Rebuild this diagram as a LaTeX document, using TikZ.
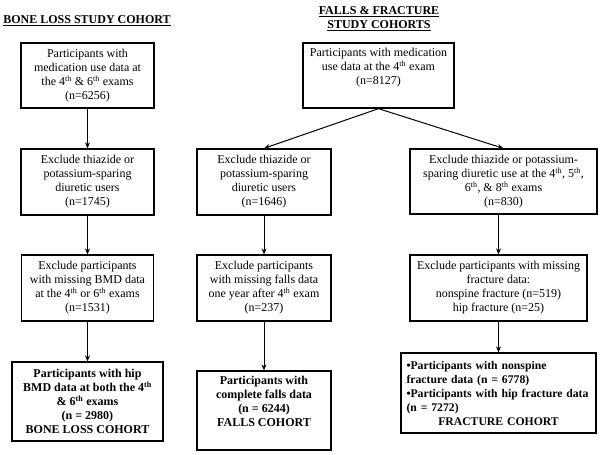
\documentclass[tikz,border=0pt]{standalone}
\usepackage{fontspec}
\setmainfont{Liberation Serif}
\usetikzlibrary{arrows.meta}
\newcommand{\sth}{\textsuperscript{th}}
\begin{document}
\begin{tikzpicture}[x=1pt,y=-1pt,
  box/.style={draw,line width=1.3pt,align=center,inner sep=0pt,font=\fontsize{12}{14}\selectfont},
  fbox/.style={box,font=\fontsize{12}{14}\selectfont\bfseries},
  title/.style={align=center,inner sep=0pt,font=\fontsize{12}{14}\selectfont\bfseries},
  arr/.style={line width=1pt,-{Stealth[length=6pt,width=5pt]}}]
\useasboundingbox (0,0) rectangle (600,455);
% titles
\node[title] (t1) at (87,21) {\underline{BONE LOSS STUDY COHORT}};
\node[title] (t2) at (379,19) {\underline{FALLS \& FRACTURE}\\\underline{STUDY COHORTS}};
% left column
\node[box,minimum width=133pt,minimum height=65pt] (L1) at (87.5,75.5)
  {Participants with\\medication use data at\\the 4\sth{} \& 6\sth{} exams\\(n=6256)};
\node[box,minimum width=133pt,minimum height=66pt] (L2) at (87.5,182)
  {Exclude thiazide or\\potassium-sparing\\diuretic users\\(n=1745)};
\node[box,minimum width=132pt,minimum height=66pt] (L3) at (87.5,288)
  {Exclude participants\\with missing BMD data\\at the 4\sth{} or 6\sth{} exams\\(n=1531)};
\node[fbox,minimum width=151pt,minimum height=79pt] (L4) at (87.5,401.5)
  {Participants with hip\\BMD data at both the 4\sth\\\& 6\sth{} exams\\(n = 2980)\\BONE LOSS COHORT};
% middle column
\node[box,minimum width=151pt,minimum height=65pt] (M1) at (378.5,75.5)
  {Participants with medication\\use data at the 4\sth{} exam\\(n=8127)\\\strut};
\node[box,minimum width=134pt,minimum height=66pt] (M2) at (264,182)
  {Exclude thiazide or\\potassium-sparing\\diuretic users\\(n=1646)};
\node[box,minimum width=134pt,minimum height=66pt] (M3) at (264,288)
  {Exclude participants\\with missing falls data\\one year after 4\sth{} exam\\(n=237)};
\node[fbox,minimum width=134pt,minimum height=79pt] (M4) at (264,410.5)
  {Participants with\\complete falls data\\(n = 6244)\\FALLS COHORT\\\strut};
% right column
\node[box,minimum width=187pt,minimum height=65pt] (R2) at (503.5,181.5)
  {Exclude thiazide or potassium-\\sparing diuretic use at the 4\sth, 5\sth,\\6\sth, \& 8\sth{} exams\\(n=830)};
\node[box,minimum width=177pt,minimum height=66pt] (R3) at (498.5,288)
  {Exclude participants with missing\\fracture data:\\nonspine fracture (n=519)\\hip fracture (n=25)};
\node[fbox,font=\fontsize{11.7}{14}\selectfont\bfseries,minimum width=195pt,minimum height=80pt,align=left,text width=184pt] (R4) at (498.5,393)
  {•Participants with nonspine\\fracture data (n = 6778)\\•Participants with hip fracture data\\(n = 7272)\\\makebox[184pt]{FRACTURE COHORT}};
% connectors
\draw[arr] (L1.south) -- (L2.north);
\draw[arr] (L2.south) -- (L3.north);
\draw[arr] (L3.south) -- (L4.north);
\draw[arr] (M1.south) -- (M2.north);
\draw[arr] (M1.south) -- (R2.north);
\draw[arr] (M2.south) -- (M3.north);
\draw[arr] (M3.south) -- (M4.north);
\draw[arr] (R3.north |- R2.south) -- (R3.north);
\draw[arr] (R3.south) -- (R4.north);
\end{tikzpicture}
\end{document}
